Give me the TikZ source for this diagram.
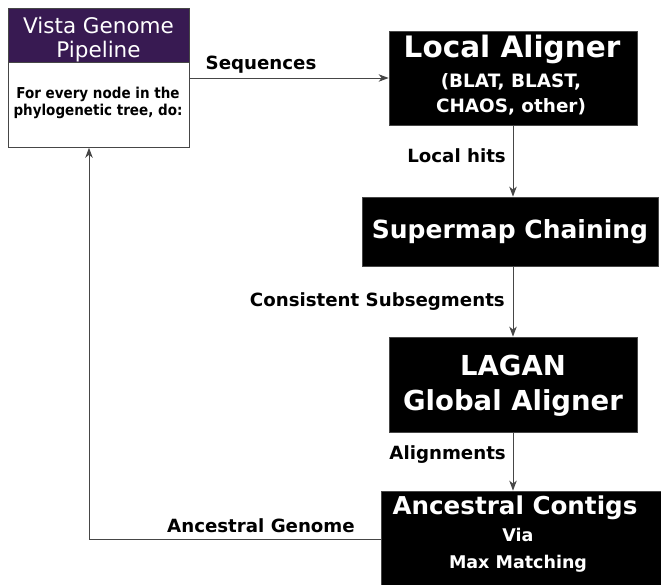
\documentclass[tikz,border=0pt]{standalone}
\usepackage{fontspec}
\setmainfont{DejaVu Sans}
\newfontfamily\bfam{DejaVu Sans Bold}
\newfontfamily\bcondfam[FakeStretch=0.9]{DejaVu Sans Bold}
\usetikzlibrary{arrows.meta}
\definecolor{vistapurple}{RGB}{56,26,82}
\definecolor{linegray}{RGB}{70,70,70}
\tikzset{
  blackbox/.style={draw=linegray, line width=0.8pt, fill=black, text=white, inner sep=0pt, align=center},
  lbl/.style={font=\bfam\fontsize{18.2}{18}\selectfont, inner sep=0pt, anchor=base},
  conn/.style={draw=linegray, line width=1pt, -{Stealth[length=10pt,width=7.5pt,inset=3pt]}}
}
\begin{document}
\begin{tikzpicture}[x=1pt,y=-1pt]
\useasboundingbox (0,0) rectangle (661,584);
% Vista box
\node[draw=linegray, line width=0.8pt, fill=white, minimum width=181pt, minimum height=139pt, inner sep=0pt, anchor=north west] (vista) at (8,8) {};
\node[fill=vistapurple, minimum width=180.2pt, minimum height=54pt, inner sep=0pt, anchor=north west] (vhead) at (8.4,8.4) {};
\draw[linegray, line width=0.8pt] (vhead.south west) -- (vhead.south east);
\node[text=white, font=\fontsize{21.5}{24}\selectfont, align=center, inner sep=0pt, anchor=base] (vtitle) at (98.5,57) {Vista Genome\\Pipeline};
\node[font=\bcondfam\fontsize{15}{16.5}\selectfont, align=center, inner sep=0pt, anchor=base] (vbody) at (98,115) {For every node in the\\phylogenetic tree, do:};
% Black boxes
\node[blackbox, minimum width=248pt, minimum height=94pt] (la) at (513,78) {};
\node[text=white, font=\bfam\fontsize{29.5}{29}\selectfont, inner sep=0pt, anchor=base] (latitle) at (512,57) {Local Aligner};
\node[text=white, font=\bfam\fontsize{18.4}{25}\selectfont, align=center, inner sep=0pt, anchor=base] (lasub) at (511,112) {(BLAT, BLAST,\\CHAOS, other)};
\node[blackbox, minimum width=296pt, minimum height=69pt, font=\bfam\fontsize{25}{25}\selectfont] (sm) at (510,231.5) {Supermap Chaining};
\node[blackbox, minimum width=248pt, minimum height=95pt] (lg) at (513,384.5) {};
\node[text=white, font=\bfam\fontsize{27.5}{35}\selectfont, align=center, inner sep=0pt, anchor=base] (lgtext) at (513,410) {LAGAN\\Global Aligner};
\node[blackbox, minimum width=282pt, minimum height=96pt] (ac) at (522,539) {};
\node[text=white, font=\bfam\fontsize{24.6}{24.6}\selectfont, inner sep=0pt, anchor=base] (actitle) at (515,514) {Ancestral Contigs};
\node[text=white, font=\bfam\fontsize{17.5}{27}\selectfont, align=center, inner sep=0pt, anchor=base] (acsub) at (518,568) {Via\\Max Matching};
% connectors
\draw[conn] (vista.east |- la.west) -- (la.west);
\draw[conn] (la.south) -- (la.south |- sm.north);
\draw[conn] (la.south |- sm.south) -- (la.south |- lg.north);
\draw[conn] (lg.south) -- (lg.south |- ac.north);
\coordinate (corner) at (89,539);
\draw[conn] (ac.west) -- (corner) -- (corner |- vista.south);
% labels
\node[lbl] (lseq) at (261,69) {Sequences};
\node[lbl, anchor=base east] (lhits) at (506,162) {Local hits};
\node[lbl, anchor=base east] (lcons) at (505,306) {Consistent Subsegments};
\node[lbl, anchor=base east] (lali) at (506,459) {Alignments};
\node[lbl, anchor=base east] (lanc) at (355,532) {Ancestral Genome};
\end{tikzpicture}
\end{document}
